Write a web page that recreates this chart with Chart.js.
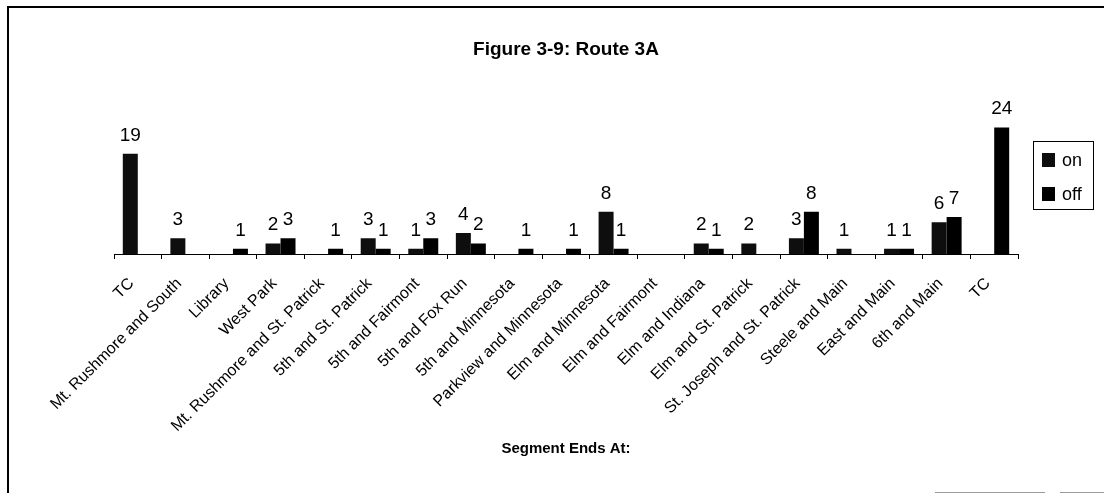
<!DOCTYPE html>
<html>
<head>
<meta charset="utf-8">
<script src="https://cdn.jsdelivr.net/npm/chart.js@4.4.1/dist/chart.umd.min.js"></script>
<style>
  html, body { margin: 0; padding: 0; background: #fff; }
  #wrap { width: 1104px; height: 493px; position: relative; }
</style>
</head>
<body>
<div id="wrap"><canvas id="c" width="1104" height="493"></canvas></div>
<script>
// Stops along Route 3A, in running order
const stops = [
  'TC', 'Mt. Rushmore and South', 'Library', 'West Park',
  'Mt. Rushmore and St. Patrick', '5th and St. Patrick', '5th and Fairmont',
  '5th and Fox Run', '5th and Minnesota', 'Parkview and Minnesota',
  'Elm and Minnesota', 'Elm and Fairmont', 'Elm and Indiana',
  'Elm and St. Patrick', 'St. Joseph and St. Patrick', 'Steele and Main',
  'East and Main', '6th and Main', 'TC'
];

// Passengers boarding ("on") and alighting ("off") per segment
const boardings  = [19, 3, 0, 2, 0, 3, 1, 4, 0, 0, 8, 0, 2, 2, 3, 1, 1, 6, 0];
const alightings = [0, 0, 1, 3, 1, 1, 3, 2, 1, 1, 1, 0, 1, 0, 8, 0, 1, 7, 24];

const seriesNames = ['on', 'off'];
const seriesColors = ['#0e0e0e', '#000000'];
const yMax = 30;

const FONT = 'Liberation Sans, Arial, sans-serif';

// Page frame and white background
const framePlugin = {
  id: 'frame',
  beforeDraw(chart) {
    const ctx = chart.ctx;
    ctx.save();
    ctx.fillStyle = '#fff';
    ctx.fillRect(0, 0, chart.width, chart.height);
    ctx.strokeStyle = '#000';
    ctx.lineWidth = 2;
    ctx.beginPath();
    ctx.moveTo(8, 493);
    ctx.lineTo(8, 7);
    ctx.lineTo(1104, 7);
    ctx.stroke();
    ctx.strokeStyle = '#9a9a9a';
    ctx.lineWidth = 1;
    ctx.beginPath();
    ctx.moveTo(935, 492.5); ctx.lineTo(1045, 492.5);
    ctx.moveTo(1060, 492.5); ctx.lineTo(1104, 492.5);
    ctx.stroke();
    ctx.restore();
  }
};

// Value labels above each non-zero bar
const valueLabels = {
  id: 'valueLabels',
  afterDatasetsDraw(chart) {
    const ctx = chart.ctx;
    ctx.save();
    ctx.font = '19px ' + FONT;
    ctx.fillStyle = '#000';
    ctx.textAlign = 'center';
    ctx.textBaseline = 'alphabetic';
    chart.data.datasets.forEach((ds, i) => {
      const meta = chart.getDatasetMeta(i);
      meta.data.forEach((bar, j) => {
        const v = ds.data[j];
        if (v > 0) ctx.fillText(String(v), bar.x, bar.y - 13);
      });
    });
    ctx.restore();
  }
};

// Boxed legend at the right edge
const boxLegend = {
  id: 'boxLegend',
  afterDraw(chart) {
    const ctx = chart.ctx;
    const left = 1033, top = 141, w = 60, h = 68;
    ctx.save();
    ctx.strokeStyle = '#000';
    ctx.lineWidth = 1;
    ctx.strokeRect(left + 0.5, top + 0.5, w, h);
    ctx.font = '18px ' + FONT;
    ctx.textAlign = 'left';
    ctx.textBaseline = 'middle';
    chart.data.datasets.forEach((ds, i) => {
      const cy = top + 19 + i * 34;
      ctx.fillStyle = ds.backgroundColor;
      ctx.fillRect(left + 9, cy - 7, 13, 14);
      ctx.fillStyle = '#000';
      ctx.fillText(ds.label, left + 29, cy + 1);
    });
    ctx.restore();
  }
};

new Chart(document.getElementById('c'), {
  type: 'bar',
  data: {
    labels: stops,
    datasets: [
      { label: seriesNames[0], data: boardings, backgroundColor: seriesColors[0],
        barPercentage: 1, categoryPercentage: 0.63 },
      { label: seriesNames[1], data: alightings, backgroundColor: seriesColors[1],
        barPercentage: 1, categoryPercentage: 0.63 }
    ]
  },
  options: {
    responsive: false,
    animation: false,
    devicePixelRatio: 1,
    layout: { padding: { left: 114, right: 86, top: 10, bottom: 32 } },
    plugins: {
      legend: { display: false },
      tooltip: { enabled: false },
      title: {
        display: true,
        text: 'Figure 3-9: Route 3A',
        color: '#000',
        font: { family: FONT, size: 19, weight: 'bold' },
        padding: { top: 28, bottom: 35 }
      }
    },
    scales: {
      x: {
        grid: { display: true, drawOnChartArea: false, drawTicks: true, tickLength: 5,
                color: '#000', offset: true },
        border: { display: true, color: '#000', width: 1 },
        ticks: {
          autoSkip: false, maxRotation: 45, minRotation: 45, padding: 9,
          color: '#000', font: { family: FONT, size: 16 },
          // trailing gap so each rotated name ends just short of its tick
          callback(value, index) { return stops[index] + '  '; }
        },
        title: { display: true, text: 'Segment Ends At:', color: '#000',
                 font: { family: FONT, size: 15, weight: 'bold' },
                 padding: { top: 4, bottom: 3 } },
        afterFit(scale) { scale.height = 207; }
      },
      y: { display: false, min: 0, max: yMax }
    }
  },
  plugins: [framePlugin, valueLabels, boxLegend]
});
</script>
</body>
</html>
